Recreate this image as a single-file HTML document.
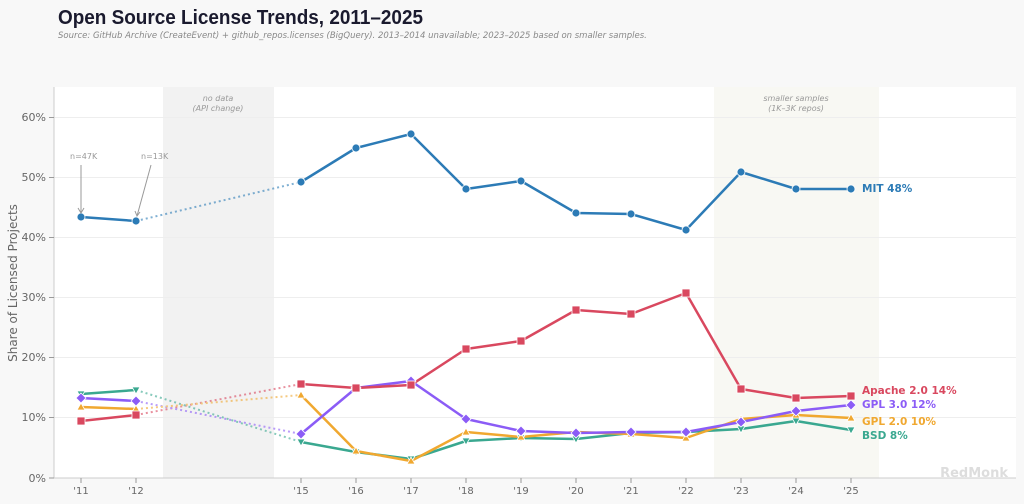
<!DOCTYPE html>
<html><head><meta charset="utf-8"><style>
html,body{margin:0;padding:0;background:#f8f8f8;overflow:hidden}
svg{display:block}
</style></head><body>
<svg width="1024" height="504" viewBox="0 0 1024 504" xmlns="http://www.w3.org/2000/svg" font-family="'DejaVu Sans','Liberation Sans',sans-serif">
<rect width="1024" height="504" fill="#f8f8f8"/>
<text x="58" y="24" font-size="20" font-weight="bold" fill="#1a1a2e" font-family="'Liberation Sans',sans-serif" textLength="365" lengthAdjust="spacingAndGlyphs">Open Source License Trends, 2011–2025</text>
<text x="58" y="38" font-size="8.5" font-style="italic" fill="#888">Source: GitHub Archive (CreateEvent) + github_repos.licenses (BigQuery). 2013–2014 unavailable; 2023–2025 based on smaller samples.</text>
<rect x="54" y="87" width="962" height="391" fill="#fff"/>
<rect x="163" y="87" width="111" height="391" fill="#f2f2f2"/>
<rect x="714" y="87" width="165" height="391" fill="#f8f8f3"/>
<text x="218" y="101" font-size="8" font-style="italic" fill="#999" text-anchor="middle">no data</text>
<text x="218" y="111" font-size="8" font-style="italic" fill="#999" text-anchor="middle">(API change)</text>
<text x="796" y="101" font-size="8" font-style="italic" fill="#999" text-anchor="middle">smaller samples</text>
<text x="796" y="111" font-size="8" font-style="italic" fill="#999" text-anchor="middle">(1K–3K repos)</text>
<g stroke="#eee" stroke-width="1">
<line x1="54" x2="1016" y1="117.5" y2="117.5"/><line x1="54" x2="1016" y1="177.5" y2="177.5"/><line x1="54" x2="1016" y1="237.5" y2="237.5"/><line x1="54" x2="1016" y1="297.5" y2="297.5"/><line x1="54" x2="1016" y1="357.5" y2="357.5"/><line x1="54" x2="1016" y1="417.5" y2="417.5"/>
</g>
<line x1="54" x2="54" y1="87" y2="478" stroke="#ccc"/>
<line x1="54" x2="1016" y1="478" y2="478" stroke="#ccc"/>
<g font-size="11" fill="#666" text-anchor="end">
<text x="46" y="121">60%</text><text x="46" y="181">50%</text><text x="46" y="241">40%</text><text x="46" y="301">30%</text><text x="46" y="361">20%</text><text x="46" y="421">10%</text><text x="46" y="482">0%</text>
</g>
<g stroke="#999"><line x1="49" x2="54" y1="117.5" y2="117.5"/><line x1="49" x2="54" y1="177.5" y2="177.5"/><line x1="49" x2="54" y1="237.5" y2="237.5"/><line x1="49" x2="54" y1="297.5" y2="297.5"/><line x1="49" x2="54" y1="357.5" y2="357.5"/><line x1="49" x2="54" y1="417.5" y2="417.5"/><line x1="49" x2="54" y1="478" y2="478"/></g>
<text transform="translate(17,283) rotate(-90)" font-size="12" fill="#666" text-anchor="middle">Share of Licensed Projects</text>
<g font-size="10" fill="#666" text-anchor="middle" stroke="none">
<text x="81" y="494">'11</text><text x="136" y="494">'12</text><text x="301" y="494">'15</text><text x="356" y="494">'16</text><text x="411" y="494">'17</text><text x="466" y="494">'18</text><text x="521" y="494">'19</text><text x="576" y="494">'20</text><text x="631" y="494">'21</text><text x="686" y="494">'22</text><text x="741" y="494">'23</text><text x="796" y="494">'24</text><text x="851" y="494">'25</text>
</g>
<g stroke="#999"><line x1="81" x2="81" y1="478" y2="483"/><line x1="136" x2="136" y1="478" y2="483"/><line x1="301" x2="301" y1="478" y2="483"/><line x1="356" x2="356" y1="478" y2="483"/><line x1="411" x2="411" y1="478" y2="483"/><line x1="466" x2="466" y1="478" y2="483"/><line x1="521" x2="521" y1="478" y2="483"/><line x1="576" x2="576" y1="478" y2="483"/><line x1="631" x2="631" y1="478" y2="483"/><line x1="686" x2="686" y1="478" y2="483"/><line x1="741" x2="741" y1="478" y2="483"/><line x1="796" x2="796" y1="478" y2="483"/><line x1="851" x2="851" y1="478" y2="483"/></g>
<g stroke-width="2" stroke-dasharray="2,3" fill="none" opacity="0.6">
<line x1="136" y1="221" x2="301" y2="182" stroke="#2c7bb6"/>
<line x1="136" y1="415" x2="301" y2="384" stroke="#d9485f"/>
<line x1="136" y1="401" x2="301" y2="434" stroke="#8b5cf6"/>
<line x1="136" y1="409" x2="301" y2="395" stroke="#f0a830"/>
<line x1="136" y1="390" x2="301" y2="442" stroke="#3aa890"/>
</g>
<g fill="none" stroke-width="2.5" stroke-linejoin="round">
<polyline stroke="#3aa890" points="81,394 136,390"/><polyline stroke="#3aa890" points="301,442 356,452 411,459 466,441 521,438 576,439 631,433 686,432 741,429 796,421 851,430"/>
<polyline stroke="#f0a830" points="81,407 136,409"/><polyline stroke="#f0a830" points="301,395 356,451 411,461 466,432 521,437 576,432 631,434 686,438 741,419 796,415 851,418"/>
<polyline stroke="#8b5cf6" points="81,398 136,401"/><polyline stroke="#8b5cf6" points="301,434 356,388 411,381 466,419 521,431 576,433 631,432 686,432 741,422 796,411 851,405"/>
<polyline stroke="#d9485f" points="81,421 136,415"/><polyline stroke="#d9485f" points="301,384 356,388 411,385 466,349 521,341 576,310 631,314 686,293 741,389 796,398 851,396"/>
<polyline stroke="#2c7bb6" points="81,217 136,221"/><polyline stroke="#2c7bb6" points="301,182 356,148 411,134 466,189 521,181 576,213 631,214 686,230 741,172 796,189 851,189"/>
</g>
<g fill="#3aa890" stroke="#fff" stroke-width="0.8">
<path d="M77,391h8l-4,7z"/><path d="M132,387h8l-4,7z"/><path d="M297,439h8l-4,7z"/><path d="M352,449h8l-4,7z"/><path d="M407,456h8l-4,7z"/><path d="M462,438h8l-4,7z"/><path d="M517,435h8l-4,7z"/><path d="M572,436h8l-4,7z"/><path d="M627,430h8l-4,7z"/><path d="M682,429h8l-4,7z"/><path d="M737,426h8l-4,7z"/><path d="M792,418h8l-4,7z"/><path d="M847,427h8l-4,7z"/>
</g>
<g fill="#f0a830" stroke="#fff" stroke-width="0.8">
<path d="M77,410h8l-4,-7z"/><path d="M132,412h8l-4,-7z"/><path d="M297,398h8l-4,-7z"/><path d="M352,454h8l-4,-7z"/><path d="M407,464h8l-4,-7z"/><path d="M462,435h8l-4,-7z"/><path d="M517,440h8l-4,-7z"/><path d="M572,435h8l-4,-7z"/><path d="M627,437h8l-4,-7z"/><path d="M682,441h8l-4,-7z"/><path d="M737,422h8l-4,-7z"/><path d="M792,418h8l-4,-7z"/><path d="M847,421h8l-4,-7z"/>
</g>
<g fill="#8b5cf6" stroke="#fff" stroke-width="0.8">
<path d="M81,393l5,5l-5,5l-5,-5z"/><path d="M136,396l5,5l-5,5l-5,-5z"/><path d="M301,429l5,5l-5,5l-5,-5z"/><path d="M356,383l5,5l-5,5l-5,-5z"/><path d="M411,376l5,5l-5,5l-5,-5z"/><path d="M466,414l5,5l-5,5l-5,-5z"/><path d="M521,426l5,5l-5,5l-5,-5z"/><path d="M576,428l5,5l-5,5l-5,-5z"/><path d="M631,427l5,5l-5,5l-5,-5z"/><path d="M686,427l5,5l-5,5l-5,-5z"/><path d="M741,417l5,5l-5,5l-5,-5z"/><path d="M796,406l5,5l-5,5l-5,-5z"/><path d="M851,400l5,5l-5,5l-5,-5z"/>
</g>
<g fill="#d9485f" stroke="#fff" stroke-width="0.8">
<rect x="77" y="417" width="8" height="8"/><rect x="132" y="411" width="8" height="8"/><rect x="297" y="380" width="8" height="8"/><rect x="352" y="384" width="8" height="8"/><rect x="407" y="381" width="8" height="8"/><rect x="462" y="345" width="8" height="8"/><rect x="517" y="337" width="8" height="8"/><rect x="572" y="306" width="8" height="8"/><rect x="627" y="310" width="8" height="8"/><rect x="682" y="289" width="8" height="8"/><rect x="737" y="385" width="8" height="8"/><rect x="792" y="394" width="8" height="8"/><rect x="847" y="392" width="8" height="8"/>
</g>
<g fill="#2c7bb6" stroke="#fff" stroke-width="0.8">
<circle cx="81" cy="217" r="4"/><circle cx="136" cy="221" r="4"/><circle cx="301" cy="182" r="4"/><circle cx="356" cy="148" r="4"/><circle cx="411" cy="134" r="4"/><circle cx="466" cy="189" r="4"/><circle cx="521" cy="181" r="4"/><circle cx="576" cy="213" r="4"/><circle cx="631" cy="214" r="4"/><circle cx="686" cy="230" r="4"/><circle cx="741" cy="172" r="4"/><circle cx="796" cy="189" r="4"/><circle cx="851" cy="189" r="4"/>
</g>
<text x="70" y="159" font-size="8" fill="#999">n=47K</text>
<text x="141" y="159" font-size="8" fill="#999">n=13K</text>
<g stroke="#999" fill="none"><line x1="81" y1="165" x2="81" y2="212"/><path d="M78,208l3,5l3,-5"/><line x1="151" y1="165" x2="137" y2="216"/><path d="M135,211l2,5l3,-4"/></g>
<g font-size="10.5" font-weight="bold" xml:space="preserve">
<text x="862" y="192" fill="#2c7bb6">MIT  48%</text>
<text x="862" y="394" fill="#d9485f">Apache 2.0  14%</text>
<text x="862" y="408" fill="#8b5cf6">GPL 3.0  12%</text>
<text x="862" y="425" fill="#f0a830">GPL 2.0  10%</text>
<text x="862" y="439" fill="#3aa890">BSD  8%</text>
</g>
<text x="1008" y="477" font-size="13" font-weight="bold" fill="#ddd" text-anchor="end">RedMonk</text>
</svg>
</body></html>
